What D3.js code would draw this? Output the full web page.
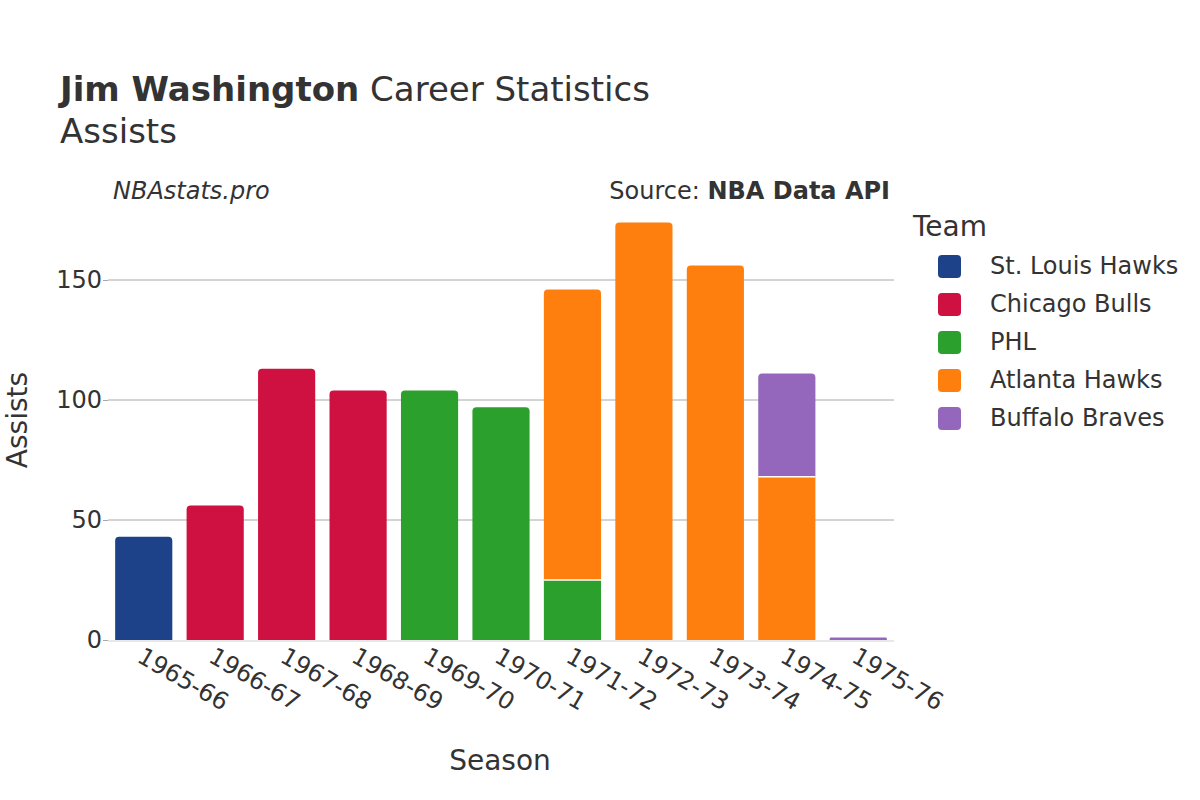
<!DOCTYPE html>
<html><head><meta charset="utf-8">
<script src="https://cdn.jsdelivr.net/npm/d3@7"></script>
<style>body{margin:0;background:#fff;} text{font-family:"DejaVu Sans",sans-serif;fill:#333;}</style>
</head><body>
<svg id="c" width="1200" height="800"></svg>
<script>
const seasons = ["1965-66","1966-67","1967-68","1968-69","1969-70","1970-71","1971-72","1972-73","1973-74","1974-75","1975-76"];
const teams = ["St. Louis Hawks","Chicago Bulls","PHL","Atlanta Hawks","Buffalo Braves"];
const teamColors = ["#1d428a","#ce1141","#2ca02c","#ff7f0e","#9467bd"];
const stLouisHawks = [43,0,0,0,0,0,0,0,0,0,0];
const chicagoBulls = [0,56,113,104,0,0,0,0,0,0,0];
const phl = [0,0,0,0,104,97,25,0,0,0,0];
const atlantaHawks = [0,0,0,0,0,0,121,174,156,68,0];
const buffaloBraves = [0,0,0,0,0,0,0,0,0,43,1];
const yTicks = [0,50,100,150];

const series = [stLouisHawks, chicagoBulls, phl, atlantaHawks, buffaloBraves];
const svg = d3.select("#c");
const x = d3.scaleBand().domain(seasons).range([108,894]).paddingInner(0.2).paddingOuter(0.1);
const y = d3.scaleLinear().domain([0,150]).range([640,280]);

// gridlines
svg.append("g").selectAll("line").data(yTicks.filter(t=>t>0)).join("line")
  .attr("x1",108).attr("x2",894).attr("y1",d=>y(d)).attr("y2",d=>y(d))
  .attr("stroke","#a8a8a8").attr("stroke-width",1);

// y axis
const yAxis = svg.append("g").attr("transform","translate(108,0)")
  .call(d3.axisLeft(y).tickValues(yTicks).tickSize(5).tickPadding(1));
yAxis.select(".domain").remove();
yAxis.selectAll(".tick line").attr("stroke","#a8a8a8");
yAxis.selectAll("text").style("font-size","24px").attr("fill","#333").attr("font-family","DejaVu Sans");

// stacked bars
const r = 4;
seasons.forEach((s,i)=>{
  let base = 0;
  const segs = [];
  series.forEach((arr,k)=>{ if(arr[i]>0){ segs.push({k, y0:base, y1:base+arr[i]}); base+=arr[i]; }});
  segs.forEach((sg,j)=>{
    const x0 = x(s), w = x.bandwidth();
    const top = y(sg.y1), bot = y(sg.y0);
    const isTop = j===segs.length-1;
    const rr = isTop ? Math.min(r, (bot-top)/2) : 0;
    const p = `M${x0},${bot} L${x0},${top+rr} Q${x0},${top} ${x0+rr},${top} L${x0+w-rr},${top} Q${x0+w},${top} ${x0+w},${top+rr} L${x0+w},${bot} Z`;
    svg.append("path").attr("d",p).attr("fill",teamColors[sg.k]);
    if(j>0) svg.append("line").attr("x1",x0).attr("x2",x0+w).attr("y1",bot).attr("y2",bot).attr("stroke","#fff").attr("stroke-width",1.5);
  });
});

// zero line
svg.append("line").attr("x1",108).attr("x2",894).attr("y1",y(0)+1).attr("y2",y(0)+1).attr("stroke","#e8e8e8").attr("stroke-width",2);

// x axis
const xAxis = svg.append("g").attr("transform","translate(0,641)")
  .call(d3.axisBottom(x).tickSize(0).tickPadding(0));
xAxis.select(".domain").remove();
xAxis.selectAll("text").style("font-size","24px").attr("fill","#333").attr("font-family","DejaVu Sans")
  .attr("text-anchor","start").attr("dy",0).attr("y",0)
  .attr("transform","translate(-8,20) rotate(30)");

// titles
const t = svg.append("text").attr("x",60).attr("y",101).style("font-size","34px");
t.append("tspan").attr("font-weight","bold").text("Jim Washington");
t.append("tspan").text(" Career Statistics");
svg.append("text").attr("x",60).attr("y",143).style("font-size","34px").text("Assists");
svg.append("text").attr("x",113).attr("y",199).style("font-size","24px").attr("font-style","italic").text("NBAstats.pro");
const src = svg.append("text").attr("x",890).attr("y",199).attr("text-anchor","end").style("font-size","24px");
src.append("tspan").text("Source: ");
src.append("tspan").attr("font-weight","bold").text("NBA Data API");

svg.append("text").attr("x",500).attr("y",770).attr("text-anchor","middle").style("font-size","28px").text("Season");
svg.append("text").attr("transform","translate(27,420) rotate(-90)").attr("text-anchor","middle").style("font-size","28px").text("Assists");

// legend
svg.append("text").attr("x",913).attr("y",236).style("font-size","28px").text("Team");
const lg = svg.append("g").selectAll("g").data(teams).join("g")
  .attr("transform",(d,i)=>`translate(0,${266+i*38})`);
lg.append("rect").attr("x",938).attr("y",-11).attr("width",23).attr("height",23).attr("rx",4).attr("fill",(d,i)=>teamColors[i]);
lg.append("text").attr("x",990).attr("y",8).style("font-size","24px").text(d=>d);
</script>
</body></html>
